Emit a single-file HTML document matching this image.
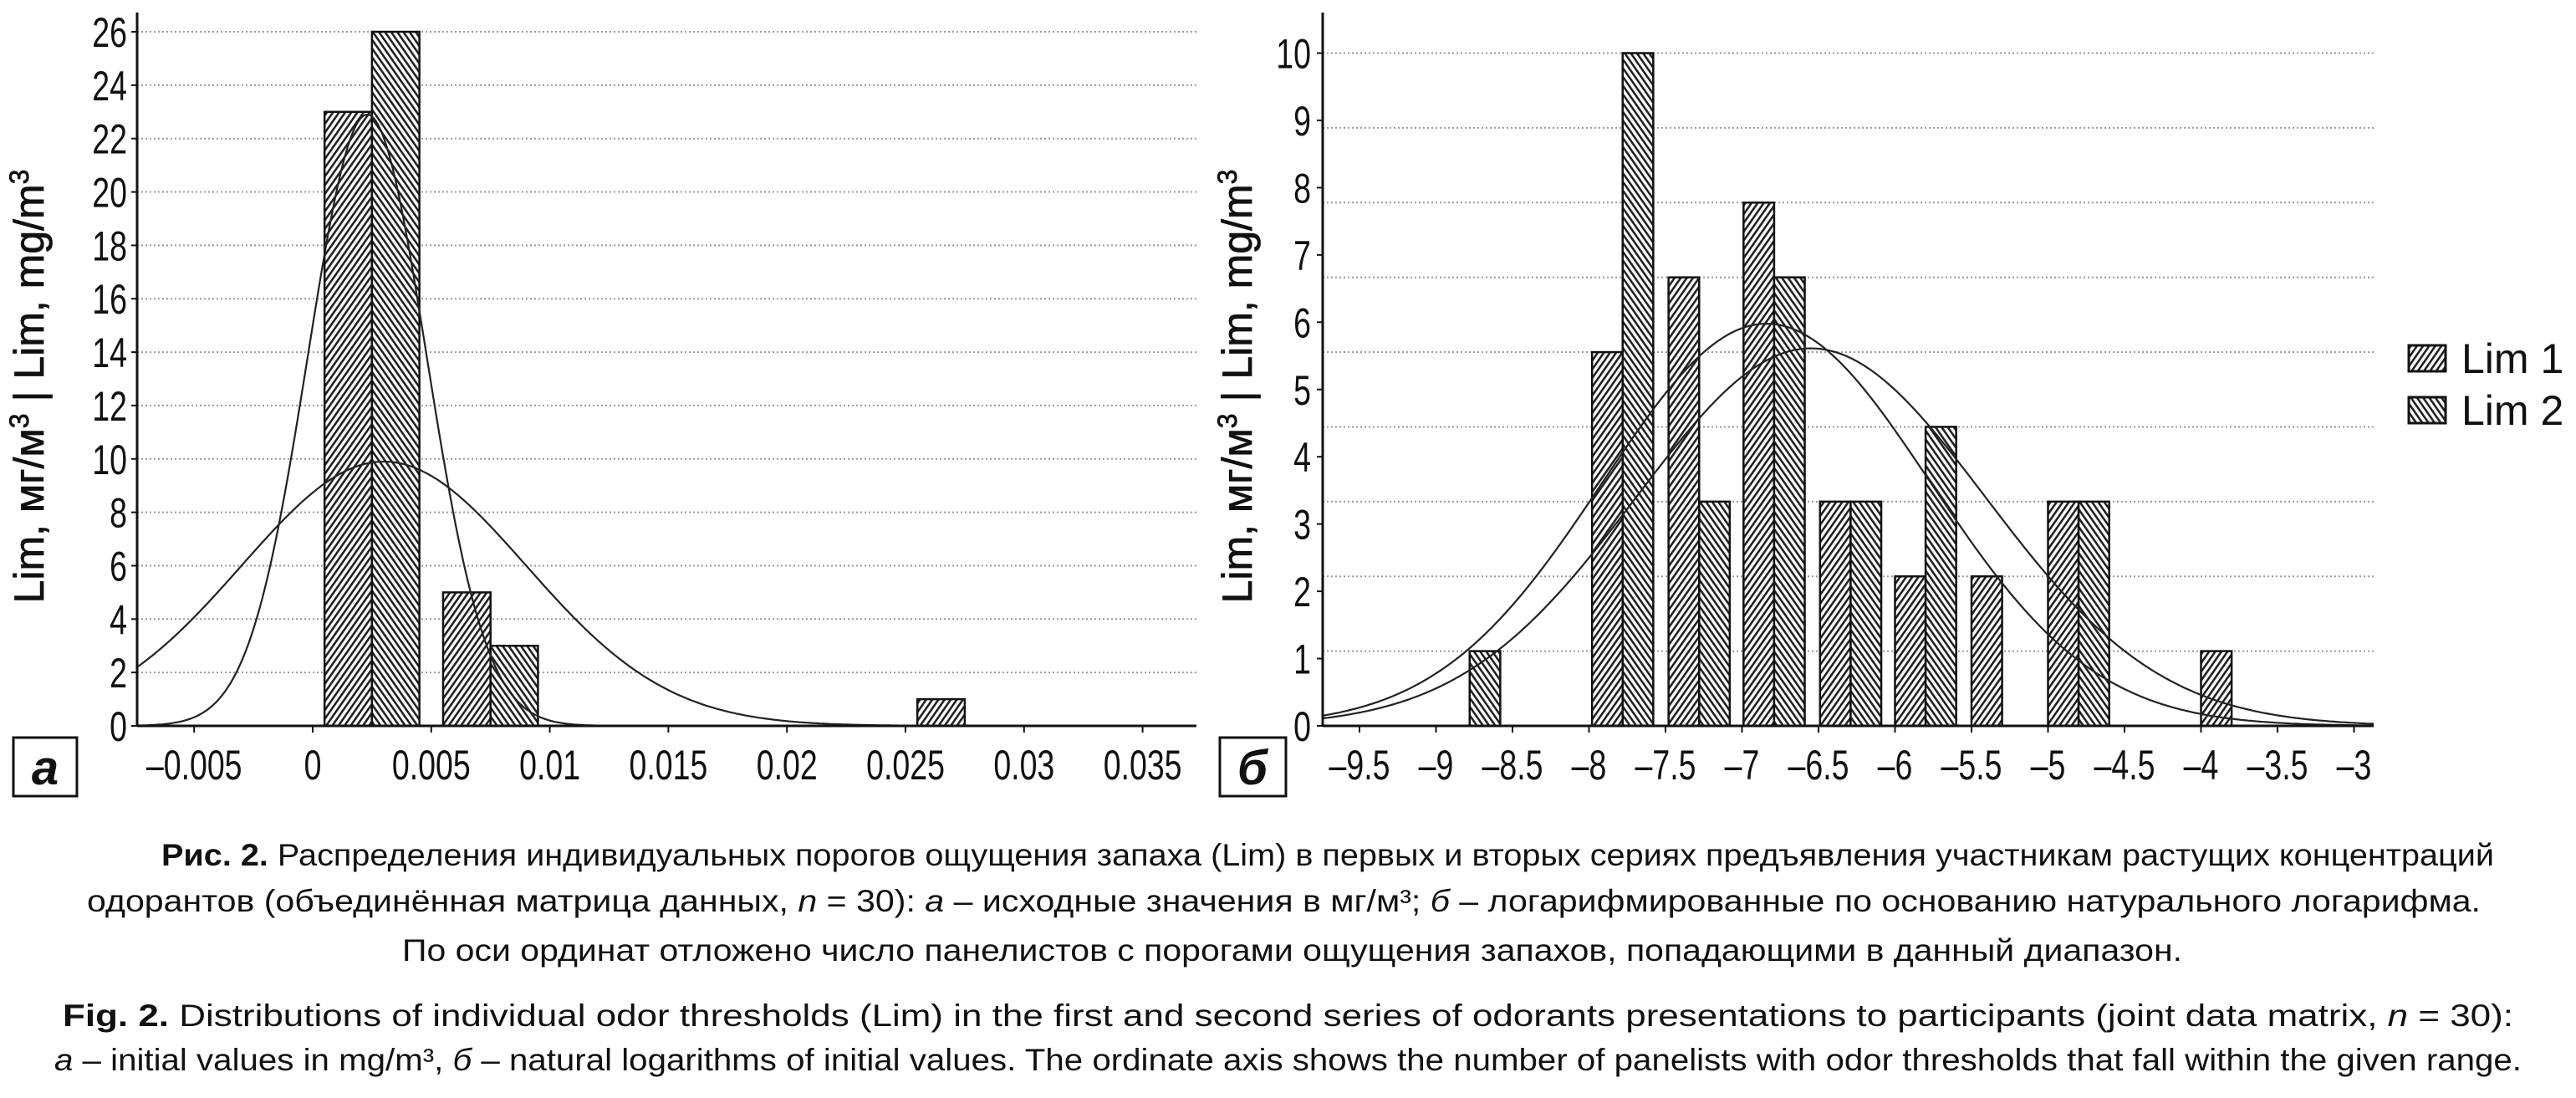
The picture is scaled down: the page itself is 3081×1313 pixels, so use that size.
<!DOCTYPE html>
<html><head><meta charset="utf-8"><style>
html,body{margin:0;padding:0;background:#fff}
svg{display:block}
text{font-family:"Liberation Sans",sans-serif;fill:#111}
</style></head><body>
<svg id="fig" width="3081" height="1313" viewBox="0 0 3081 1313" xmlns="http://www.w3.org/2000/svg">
<defs>
<pattern id="h1" width="6" height="6" patternUnits="userSpaceOnUse" patternTransform="rotate(35)"><rect width="6" height="6" fill="#fff"/><rect width="2.6" height="6" fill="#222"/></pattern>
<pattern id="h2" width="6" height="6" patternUnits="userSpaceOnUse" patternTransform="rotate(-35)"><rect width="6" height="6" fill="#fff"/><rect width="2.6" height="6" fill="#222"/></pattern>
</defs>
<g id="chartA"></g>
<g id="chartB"></g>
<g>
<rect x="2881" y="413" width="44" height="31" fill="url(#h1)" stroke="#111" stroke-width="3"/>
<text x="2944" y="446" font-size="50">Lim 1</text>
<rect x="2881" y="475" width="44" height="31" fill="url(#h2)" stroke="#111" stroke-width="3"/>
<text x="2944" y="508" font-size="50">Lim 2</text>
</g>
<g><rect x="16" y="882" width="76" height="70" fill="#fff" stroke="#111" stroke-width="3"/><text x="54" y="938" font-size="58" font-weight="bold" font-style="italic" text-anchor="middle">а</text></g>
<g><rect x="1459" y="882" width="79" height="70" fill="#fff" stroke="#111" stroke-width="3"/><text x="1498" y="938" font-size="58" font-weight="bold" font-style="italic" text-anchor="middle">б</text></g>
<text transform="translate(52,462) rotate(-90)" font-size="50" text-anchor="middle" stroke="#111" stroke-width="0.8">Lim, мг/м<tspan dy="-18" font-size="32">3</tspan><tspan dy="18"> | Lim, mg/m</tspan><tspan dy="-18" font-size="32">3</tspan></text>
<text transform="translate(1497,462) rotate(-90)" font-size="50" text-anchor="middle" stroke="#111" stroke-width="0.8">Lim, мг/м<tspan dy="-18" font-size="32">3</tspan><tspan dy="18"> | Lim, mg/m</tspan><tspan dy="-18" font-size="32">3</tspan></text>
<g font-size="37">
<text x="193" y="1035" textLength="2790" lengthAdjust="spacingAndGlyphs"><tspan font-weight="bold">Рис. 2.</tspan> Распределения индивидуальных порогов ощущения запаха (Lim) в первых и вторых сериях предъявления участникам растущих концентраций</text>
<text x="104" y="1090" textLength="2863" lengthAdjust="spacingAndGlyphs">одорантов (объединённая матрица данных, <tspan font-style="italic">n</tspan> = 30): <tspan font-style="italic">а</tspan> – исходные значения в мг/м³; <tspan font-style="italic">б</tspan> – логарифмированные по основанию натурального логарифма.</text>
<text x="481" y="1149" textLength="2129" lengthAdjust="spacingAndGlyphs">По оси ординат отложено число панелистов с порогами ощущения запахов, попадающими в данный диапазон.</text>
<text x="75" y="1227" textLength="2931" lengthAdjust="spacingAndGlyphs"><tspan font-weight="bold">Fig. 2.</tspan> Distributions of individual odor thresholds (Lim) in the first and second series of odorants presentations to participants (joint data matrix, <tspan font-style="italic">n</tspan> = 30):</text>
<text x="65" y="1280" textLength="2951" lengthAdjust="spacingAndGlyphs"><tspan font-style="italic">а</tspan> – initial values in mg/m³, <tspan font-style="italic">б</tspan> – natural logarithms of initial values. The ordinate axis shows the number of panelists with odor thresholds that fall within the given range.</text>
</g>
</svg>
<script>
// ---- Chart A data ----
const aCenters = [0.0025, 0.0075, 0.0275];
const aLim1 = [23, 5, 1];
const aLim2 = [26, 3, 0];
const aXTicks = [-0.005, 0, 0.005, 0.01, 0.015, 0.02, 0.025, 0.03, 0.035];
const aXLabels = ["–0.005","0","0.005","0.01","0.015","0.02","0.025","0.03","0.035"];
const aYTicks = [0,2,4,6,8,10,12,14,16,18,20,22,24,26];
const aFitMean = [0.0023, 0.003];
const aFitSd = [0.0025, 0.006];
const aFitPeak = [22.9, 9.9];
// ---- Chart B data ----
const bCenters = [-8.78, -7.78, -7.28, -6.79, -6.29, -5.8, -5.3, -4.8, -3.8];
const bLim1 = [0, 5, 6, 7, 3, 2, 2, 3, 1];
const bLim2 = [1, 9, 3, 6, 3, 4, 0, 3, 0];
const bXTicks = [-9.5,-9,-8.5,-8,-7.5,-7,-6.5,-6,-5.5,-5,-4.5,-4,-3.5,-3];
const bXLabels = ["–9.5","–9","–8.5","–8","–7.5","–7","–6.5","–6","–5.5","–5","–4.5","–4","–3.5","–3"];
const bYLabels = [0,1,2,3,4,5,6,7,8,9,10];
const bGrid = [1,2,3,4,5,6,7,8,9];
const bFitMean = [-6.84, -6.55];
const bFitSd = [1.07, 1.14];
const bFitPeak = [5.38, 5.05];

const NS = "http://www.w3.org/2000/svg";
function mk(parent, tag, attrs, txt){const e=document.createElementNS(NS,tag);for(const k in attrs)e.setAttribute(k,attrs[k]);if(txt!==undefined)e.textContent=txt;parent.appendChild(e);return e;}

// Chart A
(function(){
  const g=document.getElementById('chartA');
  const x0=164,x1=1431,y0=868;
  const xa=v=>374+v/0.005*141.8;
  const ya=v=>y0-v*(868-38)/26;
  aYTicks.forEach(v=>{
    if(v>0){const l=mk(g,'line',{x1:x0,x2:x1,y1:ya(v),y2:ya(v),stroke:'#999','stroke-width':2,'stroke-dasharray':'2 3'});
    
    }
    mk(g,'line',{x1:x0-7,x2:x0,y1:ya(v),y2:ya(v),stroke:'#111','stroke-width':2});
    const t=mk(g,'text',{transform:`translate(152,${ya(v)+18}) scale(0.75,1)`,'font-size':50,'text-anchor':'end'},String(v));
    
    
  });
  const hw=0.002;
  aCenters.forEach((c,i)=>{
    [[aLim1[i],c-hw,'url(#h1)'],[aLim2[i],c,'url(#h2)']].forEach((s,j)=>{
      if(s[0]<=0)return;
      const r=mk(g,'rect',{x:xa(s[1]),y:ya(s[0]),width:xa(s[1]+hw)-xa(s[1]),height:y0-ya(s[0]),fill:s[2],stroke:'#111','stroke-width':2.5});
      
      
    });
  });
  aFitMean.forEach((m,i)=>{
    let d='';
    for(let px=x0;px<=x1;px+=3){const v=(px-374)/141.8*0.005;const yv=aFitPeak[i]*Math.exp(-Math.pow(v-m,2)/(2*aFitSd[i]*aFitSd[i]));d+=(d?'L':'M')+px+','+ya(yv).toFixed(1);}
    const p=mk(g,'path',{d:d,fill:'none',stroke:'#222','stroke-width':2.2});
    
    
  });
  mk(g,'line',{x1:x0,x2:x0,y1:15,y2:y0,stroke:'#111','stroke-width':3});
  mk(g,'line',{x1:x0,x2:x1,y1:y0,y2:y0,stroke:'#111','stroke-width':3});
  aXTicks.forEach((v,i)=>{
    mk(g,'line',{x1:xa(v),x2:xa(v),y1:y0,y2:y0+8,stroke:'#111','stroke-width':2});
    const t=mk(g,'text',{transform:`translate(${xa(v)},${y0+64}) scale(0.75,1)`,'font-size':50,'text-anchor':'middle'},aXLabels[i]);
    
    
  });
})();

// Chart B
(function(){
  const g=document.getElementById('chartB');
  const x0=1582,x1=2839,y0=868;
  const xb=v=>1626+(v+9.5)/0.5*91.5;
  const yg=v=>y0-v*(868-63.5)/9;
  const yl=v=>y0-v*(868-63.5)/10;
  bGrid.forEach(v=>{
    const l=mk(g,'line',{x1:x0,x2:x1,y1:yg(v),y2:yg(v),stroke:'#999','stroke-width':2,'stroke-dasharray':'2 3'});
    
    
  });
  bYLabels.forEach(v=>{
    mk(g,'line',{x1:x0-7,x2:x0,y1:yl(v),y2:yl(v),stroke:'#111','stroke-width':2});
    const t=mk(g,'text',{transform:`translate(1568,${yl(v)+18}) scale(0.75,1)`,'font-size':50,'text-anchor':'end'},String(v));
    
    
  });
  const hw=0.2;
  bCenters.forEach((c,i)=>{
    [[bLim1[i],c-hw,'url(#h1)'],[bLim2[i],c,'url(#h2)']].forEach((s,j)=>{
      if(s[0]<=0)return;
      const r=mk(g,'rect',{x:xb(s[1]),y:yg(s[0]),width:xb(s[1]+hw)-xb(s[1]),height:y0-yg(s[0]),fill:s[2],stroke:'#111','stroke-width':2.5});
      
      
    });
  });
  bFitMean.forEach((m,i)=>{
    let d='';
    for(let px=x0;px<=x1;px+=3){const v=(px-1626)/91.5*0.5-9.5;const yv=bFitPeak[i]*Math.exp(-Math.pow(v-m,2)/(2*bFitSd[i]*bFitSd[i]));d+=(d?'L':'M')+px+','+yg(yv).toFixed(1);}
    const p=mk(g,'path',{d:d,fill:'none',stroke:'#222','stroke-width':2.2});
    
    
  });
  mk(g,'line',{x1:x0,x2:x0,y1:15,y2:y0,stroke:'#111','stroke-width':3});
  mk(g,'line',{x1:x0,x2:x1,y1:y0,y2:y0,stroke:'#111','stroke-width':3});
  bXTicks.forEach((v,i)=>{
    mk(g,'line',{x1:xb(v),x2:xb(v),y1:y0,y2:y0+8,stroke:'#111','stroke-width':2});
    const t=mk(g,'text',{transform:`translate(${xb(v)},${y0+64}) scale(0.75,1)`,'font-size':50,'text-anchor':'middle'},bXLabels[i]);
    
    
  });
})();
</script>
</body></html>
